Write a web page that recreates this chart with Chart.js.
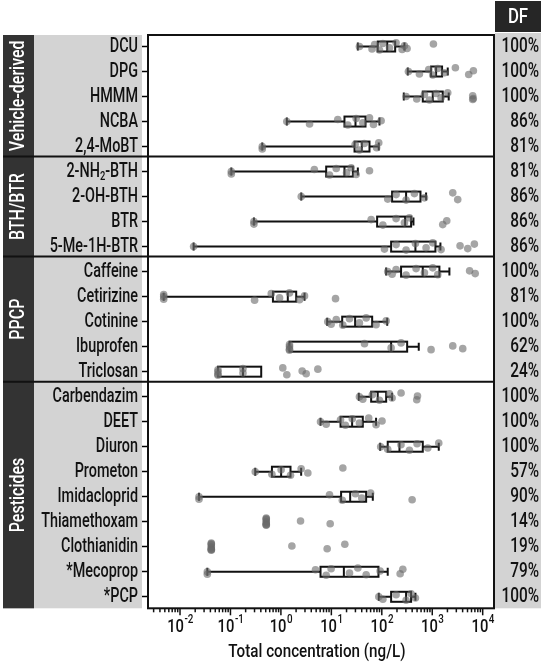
<!DOCTYPE html>
<html>
<head>
<meta charset="utf-8">
<script src="https://cdn.jsdelivr.net/npm/chart.js@4.4.1/dist/chart.umd.min.js"></script>
<style>
    html, body { margin: 0; padding: 0; background: #fff; }
    #wrap { width: 544px; height: 666px; }
</style>
</head>
<body>
<div id="wrap"><canvas id="chart" width="544" height="666"></canvas></div>
<script>
// 化合物 (从上到下)
const compounds = ['DCU', 'DPG', 'HMMM', 'NCBA', '2,4-MoBT',
    '2-NH\u2082-BTH', '2-OH-BTH', 'BTR', '5-Me-1H-BTR',
    'Caffeine', 'Cetirizine', 'Cotinine', 'Ibuprofen', 'Triclosan',
    'Carbendazim', 'DEET', 'Diuron', 'Prometon', 'Imidacloprid', 'Thiamethoxam', 'Clothianidin', '*Mecoprop', '*PCP'];

// 分组
const groupNames = ['Vehicle-derived', 'BTH/BTR', 'PPCP', 'Pesticides'];
const groupStart = [0, 5, 9, 14];
const groupEnd = [4, 8, 13, 22];

// 检出频率 (%)
const detectFreq = [100, 100, 100, 86, 81, 81, 86, 86, 86, 100, 81, 100, 62, 24, 100, 100, 100, 57, 90, 14, 19, 79, 100];

// x 轴刻度 (10 的幂)
const decadeExps = [-2, -1, 0, 1, 2, 3, 4];

// 箱线图统计量 (ng/L), null = 不画
const whiskerLow  = [33.5, 327, 273, 1.31, 0.427, 0.104, 2.53, 0.292, 0.0186, 122, 0.00475, 8.26, 1.48, null, 35, 6.1, 92.8, 0.31, 0.0238, null, null, 0.0348, 87.2];
const q1          = [83, 948, 649, 18.2, 28.8, 7.9, 160, 80.8, 153, 241, 0.695, 16.4, 1.48, 0.0565, 61.5, 15.2, 131, 0.664, 15.6, null, null, 6.1, 153];
const median      = [128, 1191, 1023, 30.1, 40.2, 18.2, 303, 290, 464, 649, 1.37, 29.6, 153, 0.177, 83, 25.8, 224, 1.01, 23.6, null, null, 17.7, 303];
const q3          = [184, 1565, 1614, 47.5, 57, 26.7, 584, 381, 1156, 1386, 2.01, 64.4, 318, 0.407, 122, 42, 649, 1.55, 48.9, null, null, 85.9, 381];
const whiskerHigh = [281, 2027, 2120, 89.9, 87, 33.5, 755, 424, 1452, 2187, 2.94, 128, 540, null, 160, 77, 1346, 2.52, 66.3, null, null, 131, 464];

// 单个样品浓度 (ng/L)
const samples = [
    [36, 64, 72, 90, 105, 142, 192, 253, 281, 317, 1055],
    [337, 557, 851, 1023, 1285, 1741, 2877, 5280, 6540],
    [303, 493, 700, 880, 1190, 1496, 2027, 6340, 6340, 6500],
    [1.31, 3.7, 13.4, 21.2, 31, 42.1, 57, 68.4, 97],
    [0.427, 0.427, 29.6, 36, 45, 79, 87],
    [0.104, 0.104, 4.6, 9.2, 12.5, 20, 24.7, 31, 57],
    [2.53, 131, 192, 303, 443, 700, 2550, 3200],
    [0.292, 0.292, 61.5, 105, 192, 281, 353, 1614, 1940],
    [0.0186, 113, 192, 303, 464, 755, 1023, 1496, 3560, 5050, 6840],
    [131, 160, 192, 303, 478, 700, 1023, 1285, 5500, 7100],
    [0.00475, 0.00475, 0.00475, 0.301, 0.644, 0.94, 1.48, 2.34, 2.94, 12.1],
    [8.5, 9.9, 12.5, 16.9, 22.9, 36, 49, 77, 122],
    [1.48, 1.48, 1.48, 1.48, 45.4, 153, 241, 948, 2550, 4020],
    [0.0565, 0.0565, 0.0565, 0.0565, 0.177, 0.177, 1.09, 1.31, 2.64, 3.17, 5.4],
    [36, 42, 65, 90, 142, 160, 241, 493, 510],
    [6.1, 7.9, 15.2, 19, 26, 36, 55, 77, 101],
    [95, 131, 240, 353, 500, 815, 1346],
    [0.31, 0.664, 1.01, 1.55, 2.52, 3.42, 16.9],
    [0.0238, 0.0238, 9.2, 16.5, 30, 40, 60, 399],
    [0.512, 0.512, 0.512, 0.512, 0.512, 0.512, 0.512, 0.512, 2.45, 9.48],
    [0.0417, 0.0417, 0.0417, 0.0417, 0.0417, 0.0417, 0.0417, 0.0417, 1.65, 8.26, 18.5],
    [0.0348, 0.0348, 4.85, 7.9, 9.9, 22.9, 33.5, 49, 92.7, 231, 261],
    [87.2, 105, 192, 303, 381, 464]
];

const FONT = "Roboto, 'DejaVu Sans', sans-serif";
const WEIGHT = '500 ';
const jitter = [0, 0.1, -0.08, 0.14, -0.12, 0.05, -0.15, 0.12, -0.03, 0.08, -0.1];

// 散点数据
const pointData = [];
samples.forEach((vals, i) => {
    vals.forEach((v, k) => {
        pointData.push({ x: v, y: i + jitter[k % jitter.length] });
    });
});

/**
 * 绘制横向压缩的文字 (模拟窄体字)
 */
function drawNarrow(ctx, text, x, y, size, sx, align) {
    ctx.save();
    ctx.font = WEIGHT + size + 'px ' + FONT;
    ctx.textBaseline = 'middle';
    ctx.textAlign = 'left';
    // 下标处理: 用 \u2082 标记
    const parts = text.split('\u2082');
    const subSize = Math.round(size * 0.65);
    const widths = parts.map(p => ctx.measureText(p).width);
    ctx.font = WEIGHT + subSize + 'px ' + FONT;
    const subW = ctx.measureText('2').width;
    const total = widths.reduce((s, w) => s + w, 0) + subW * (parts.length - 1);
    let start = 0;
    if (align === 'right') start = -total;
    else if (align === 'center') start = -total / 2;
    ctx.translate(x, y);
    ctx.scale(sx, 1);
    let cx = start;
    parts.forEach((p, k) => {
        ctx.font = WEIGHT + size + 'px ' + FONT;
        ctx.fillText(p, cx, 0);
        cx += widths[k];
        if (k < parts.length - 1) {
            ctx.font = WEIGHT + subSize + 'px ' + FONT;
            ctx.fillText('2', cx, size * 0.25);
            cx += subW;
        }
    });
    ctx.restore();
}

/**
 * 背景、箱体、边框、刻度
 */
const panelPlugin = {
    id: 'panels',
    beforeDraw(chart) {
        const { ctx, chartArea: a, scales: { y } } = chart;
        ctx.save();
        ctx.fillStyle = '#fff';
        ctx.fillRect(0, 0, chart.width, chart.height);

        // 左侧灰色标签区
        ctx.fillStyle = '#d3d3d3';
        ctx.fillRect(3, a.top, 139, a.bottom - a.top);
        // 右侧 DF 列
        ctx.fillRect(a.right + 1, 33, 46, a.bottom - 33);
        ctx.fillStyle = '#262626';
        ctx.fillRect(a.right + 1, 1, 46, 31);
        ctx.fillStyle = '#fff';
        drawNarrow(ctx, 'DF', a.right + 24, 18, 21, 0.8, 'center');

        // 分组深色条
        groupNames.forEach((g, k) => {
            const y0 = k === 0 ? a.top : y.getPixelForValue(groupStart[k] - 0.6);
            const y1 = k === groupNames.length - 1 ? a.bottom : y.getPixelForValue(groupEnd[k] + 0.4);
            ctx.fillStyle = '#333';
            ctx.fillRect(3, y0, 31, y1 - y0);
            ctx.save();
            ctx.translate(19, (y0 + y1) / 2);
            ctx.rotate(-Math.PI / 2);
            ctx.fillStyle = '#fff';
            drawNarrow(ctx, g, 0, 0, 20, 0.8, 'center');
            ctx.restore();
        });

        // y 轴标签
        ctx.fillStyle = '#111';
        compounds.forEach((c, i) => {
            drawNarrow(ctx, c, 138, y.getPixelForValue(i), 20, 0.72, 'right');
        });
        ctx.restore();
    },
    beforeDatasetsDraw(chart) {
        const { ctx, scales: { x, y } } = chart;
        ctx.save();
        ctx.strokeStyle = '#111';
        compounds.forEach((c, i) => {
            const yc = y.getPixelForValue(i);
            if (whiskerLow[i] !== null) {
                const xl = x.getPixelForValue(whiskerLow[i]);
                const xh = x.getPixelForValue(whiskerHigh[i]);
                ctx.lineWidth = 2;
                ctx.beginPath();
                ctx.moveTo(xl, yc); ctx.lineTo(xh, yc);
                ctx.moveTo(xl, yc - 4); ctx.lineTo(xl, yc + 4);
                ctx.moveTo(xh, yc - 4); ctx.lineTo(xh, yc + 4);
                ctx.stroke();
            }
            if (q1[i] !== null) {
                const x1 = x.getPixelForValue(q1[i]);
                const x3 = x.getPixelForValue(q3[i]);
                const xm = x.getPixelForValue(median[i]);
                ctx.fillStyle = '#fff';
                ctx.fillRect(x1, yc - 5, x3 - x1, 10);
                ctx.lineWidth = 2;
                ctx.strokeRect(x1, yc - 5, x3 - x1, 10);
                ctx.beginPath();
                ctx.moveTo(xm, yc - 5); ctx.lineTo(xm, yc + 5);
                ctx.stroke();
            }
        });
        ctx.restore();
    },
    afterDatasetsDraw(chart) {
        const { ctx, chartArea: a, scales: { x, y } } = chart;
        ctx.save();
        ctx.strokeStyle = '#111';

        // 分组分隔线
        ctx.lineWidth = 2;
        groupStart.slice(1).forEach(s => {
            const yy = y.getPixelForValue(s - 0.6);
            ctx.beginPath();
            ctx.moveTo(3, yy); ctx.lineTo(a.right, yy);
            ctx.stroke();
        });
        // 边框
        ctx.strokeRect(a.left, a.top, a.right - a.left, a.bottom - a.top);

        // x 轴刻度 (对数, 含次刻度)
        ctx.lineWidth = 1.5;
        for (let e = -3; e <= 4; e++) {
            for (let m = 1; m <= 9; m++) {
                const v = m * Math.pow(10, e);
                if (v < x.min || v > x.max) continue;
                const px = x.getPixelForValue(v);
                ctx.beginPath();
                ctx.moveTo(px, a.bottom);
                ctx.lineTo(px, a.bottom + (m === 1 ? 7 : 4));
                ctx.stroke();
            }
        }
        // x 轴刻度标签 10^n
        ctx.fillStyle = '#111';
        decadeExps.forEach(e => {
            const px = x.getPixelForValue(Math.pow(10, e));
            const sup = e < 0 ? '-' + (-e) : String(e);
            ctx.font = WEIGHT + '18px ' + FONT;
            const wb = ctx.measureText('10').width * 0.82;
            ctx.font = WEIGHT + '12px ' + FONT;
            const we = ctx.measureText(sup).width * 0.82;
            const x0 = px - (wb + we) / 2;
            drawNarrow(ctx, '10', x0, 627, 18, 0.82, 'left');
            drawNarrow(ctx, sup, x0 + wb + 0.5, 620, 12, 0.82, 'left');
        });

        // x 轴标题
        drawNarrow(ctx, 'Total concentration (ng/L)', (a.left + a.right) / 2 - 4, 652, 19, 0.8, 'center');

        // DF 数值
        detectFreq.forEach((d, i) => {
            drawNarrow(ctx, d + '%', 539, y.getPixelForValue(i), 20, 0.77, 'right');
        });
        ctx.restore();
    }
};

const ctx = document.getElementById('chart').getContext('2d');
new Chart(ctx, {
    type: 'scatter',
    data: {
        datasets: [{
            data: pointData,
            pointRadius: 3.8,
            pointBackgroundColor: 'rgba(105, 105, 105, 0.6)',
            pointBorderWidth: 0,
            showLine: false
        }]
    },
    options: {
        responsive: false,
        animation: false,
        layout: { padding: { top: 35, right: 50, left: 0, bottom: 0 } },
        plugins: {
            legend: { display: false },
            tooltip: { enabled: false }
        },
        scales: {
            x: {
                type: 'logarithmic',
                min: 0.00232,
                max: 16750,
                ticks: { display: false },
                grid: { display: false },
                border: { display: false },
                afterFit: s => { s.height = 57.7; }
            },
            y: {
                type: 'linear',
                reverse: true,
                min: -0.46,
                max: 22.46,
                afterBuildTicks: s => { s.ticks = compounds.map((c, i) => ({ value: i })); },
                ticks: { display: false },
                grid: { drawOnChartArea: false, tickLength: 6, tickColor: '#000', tickWidth: 1.5 },
                border: { display: false },
                afterFit: s => { s.width = 148; }
            }
        }
    },
    plugins: [panelPlugin]
});
</script>
</body>
</html>
